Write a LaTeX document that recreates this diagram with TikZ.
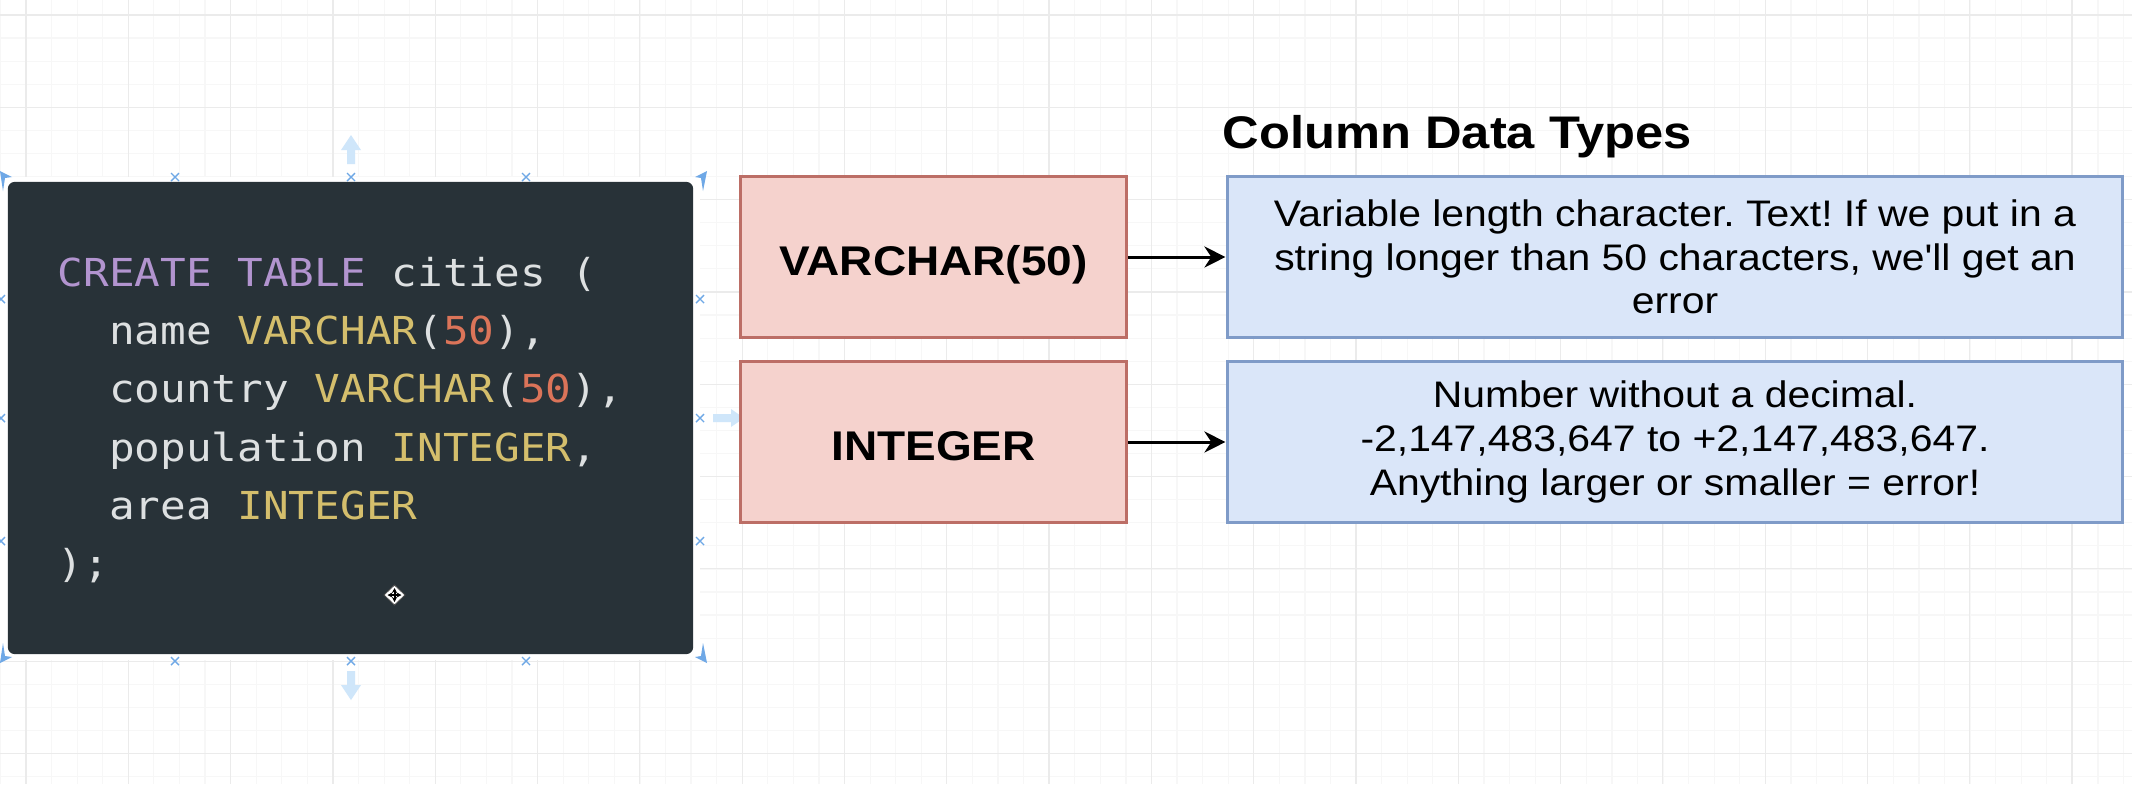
\documentclass[tikz,border=0pt]{standalone}
\usepackage{fontspec}
\usepackage{tikz}
\usetikzlibrary{arrows.meta}
\setmainfont{Liberation Sans}
\setmonofont{DejaVu Sans Mono}
\newfontfamily\notefont{Liberation Sans}
\definecolor{codebg}{HTML}{283238}
\definecolor{codepurple}{HTML}{B294CF}
\definecolor{codeyellow}{HTML}{D4BE6C}
\definecolor{codeorange}{HTML}{DB7459}
\definecolor{codewhite}{HTML}{DDE0E1}
\definecolor{typefill}{HTML}{F5D2CD}
\definecolor{typeline}{HTML}{BC6E66}
\definecolor{notefill}{HTML}{DAE6F9}
\definecolor{noteline}{HTML}{7F9BC8}
\definecolor{handleblue}{HTML}{6FA8E6}
\definecolor{hintblue}{HTML}{CFE6FA}
\tikzset{
  gridmajor/.style={draw=black!8, line width=0.012cm},
  gridminor/.style={draw=black!3, line width=0.012cm},
  typebox/.style={draw=typeline, fill=typefill, line width=0.03cm, xscale=1.108, minimum width=3.475cm, minimum height=1.61cm, text height=0.36cm, text depth=0pt, font=\fontsize{11.8}{14}\selectfont\bfseries},
  notebox/.style={draw=noteline, fill=notefill, line width=0.03cm, xscale=1.108, minimum width=8.08cm, minimum height=1.61cm, align=center, font=\fontsize{10.5}{12.3}\selectfont\notefont\frenchspacing},
  link/.style={-{Stealth[length=0.21cm,width=0.21cm]}, line width=0.03cm, black},
  handle/.style={draw=handleblue, line width=0.014cm},
  hint/.style={fill=hintblue, draw=none}
}
\begin{document}
\begin{tikzpicture}[x=0.01cm, y=-0.01cm]
  \useasboundingbox (0,0) rectangle (2132,784);
  \fill[white] (0,0) rectangle (2132,784);

  % grid
  \foreach \i in {0,...,83} \draw[gridminor] ({0.4+25.58*\i},0)--({0.4+25.58*\i},784);
  \foreach \i in {0,...,34} \draw[gridminor] (0,{15+23.08*\i})--(2132,{15+23.08*\i});
  \foreach \i in {0,...,20} \draw[gridmajor] ({26+102.3*\i},0)--({26+102.3*\i},784);
  \foreach \i in {0,...,8} \draw[gridmajor] (0,{15+92.3*\i})--(2132,{15+92.3*\i});
  \fill[white] (0,177) rectangle (700,660); % selection halo

  % code panel
  \node[fill=codebg, rounded corners=0.07cm, minimum width=6.85cm, minimum height=4.72cm, inner sep=0pt] (codebox) at (350.5,418) {};
  \node[anchor=west, align=left, inner sep=0pt, xscale=1.108, text=codewhite, font=\fontsize{10.95}{16.6}\selectfont\ttfamily] (codetext) at (57,420) {%
    \textcolor{codepurple}{CREATE TABLE} cities (\\
    \ \ name \textcolor{codeyellow}{VARCHAR}(\textcolor{codeorange}{50}),\\
    \ \ country \textcolor{codeyellow}{VARCHAR}(\textcolor{codeorange}{50}),\\
    \ \ population \textcolor{codeyellow}{INTEGER},\\
    \ \ area \textcolor{codeyellow}{INTEGER}\\
    );};

  % selection crosses
  \foreach \x in {175,351,526} \foreach \y in {177,661} \draw[handle] (\x-4,\y-4)--(\x+4,\y+4) (\x-4,\y+4)--(\x+4,\y-4);
  \foreach \x in {1,700} \foreach \y in {299,418,541} \draw[handle] (\x-4,\y-4)--(\x+4,\y+4) (\x-4,\y+4)--(\x+4,\y-4);

  % corner marks
  \fill[handleblue] (0,171)--(12,177)--(5,178)--(3,191)--cycle;
  \fill[handleblue] (707,171)--(695,177)--(701,178)--(703,191)--cycle;
  \fill[handleblue] (0,663)--(12,657)--(5,656)--(3,643)--cycle;
  \fill[handleblue] (707,663)--(695,657)--(701,656)--(703,643)--cycle;

  % faint arrows round the panel
  \fill[hint] (351,135)--(361,150)--(355,150)--(355,164)--(347,164)--(347,150)--(341,150)--cycle; % up
  \fill[hint] (351,700)--(361,685)--(355,685)--(355,671)--(347,671)--(347,685)--(341,685)--cycle; % down
  \fill[hint] (744,418)--(731,409)--(731,414)--(713,414)--(713,422)--(731,422)--(731,427)--cycle; % right

  % cursor
  \filldraw[fill=white, draw=black!70, line width=0.008cm] (394.5,585)--(405,595)--(394.5,605)--(384,595)--cycle;
  \draw[black, line width=0.02cm, <->, >={Stealth[length=0.05cm,width=0.05cm]}] (394.5,588)--(394.5,602);
  \draw[black, line width=0.02cm, <->, >={Stealth[length=0.05cm,width=0.05cm]}] (387.5,595)--(401.5,595);

  % title
  \node[anchor=base west, inner sep=0pt, xscale=1.108, font=\fontsize{13}{15}\selectfont\bfseries] (title) at (1222,148) {Column Data Types};

  % type boxes
  \node[typebox] (varchar) at (933.5,257) {VARCHAR(50)};
  \node[typebox] (integer) at (933.5,442) {INTEGER};

  % description boxes
  \node[notebox] (varcharnote) at (1675,257) {Variable length character. Text! If we put in a\\string longer than 50 characters, we'll get an\\error};
  \node[notebox] (integernote) at (1675,442) {Number without a decimal.\\[0.3pt]-2,147,483,647 to +2,147,483,647.\\[0.3pt]Anything larger or smaller = error!};

  % arrows
  \draw[link] (varchar)--(varcharnote);
  \draw[link] (integer)--(integernote);
\end{tikzpicture}
\end{document}
